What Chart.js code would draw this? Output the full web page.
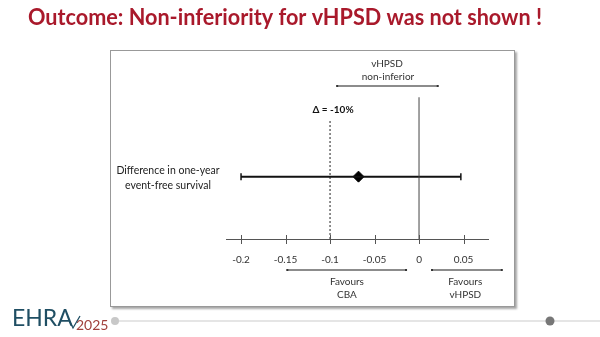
<!DOCTYPE html>
<html>
<head>
<meta charset="utf-8">
<script src="https://cdn.jsdelivr.net/npm/chart.js@4.4.1/dist/chart.umd.min.js"></script>
<style>
  html, body { margin: 0; padding: 0; background: #fff; }
  #wrap { position: relative; width: 600px; height: 337px; overflow: hidden; }
  #box { position: absolute; left: 110px; top: 50px; width: 403px; height: 255px;
         border: 1px solid #999; box-shadow: 2px 2px 2px rgba(0,0,0,0.35); background: #fff; }
  #c { position: absolute; left: 0; top: 0; }
</style>
</head>
<body>
<div id="wrap">
  <div id="box"></div>
  <canvas id="c" width="600" height="337"></canvas>
</div>
<script>
// data
const tickValues = [-0.2, -0.15, -0.1, -0.05, 0, 0.05]
const tickLabels = ['-0.2', '-0.15', '-0.1', '-0.05', '0', '0.05']
const estimate = -0.068
const ciLow = -0.2
const ciHigh = 0.047
const margin = -0.1
const rowLabel = ['Difference in one-year', 'event-free survival']

// vertical positions in y units (0 = axis, 1 = top of plot)
const rowY = 0.33
const marginTop = 0.63
const zeroTop = 0.75

const xMin = -0.2169
const xMax = 0.0775

const font = 'Lato, "Liberation Sans", sans-serif'

const ctx = document.getElementById('c')

const extras = {
    id: 'extras',
    afterDraw(chart) {
        const g = chart.ctx
        const x = chart.scales.x
        const px = v => x.getPixelForValue(v)
        g.save()

        // title
        g.fillStyle = '#a9192b'
        g.font = 'bold 22px ' + font
        g.textAlign = 'left'
        g.textBaseline = 'middle'
        g.fillText('Outcome: Non-inferiority for vHPSD was not shown !', 28, 18, 514)

        // tick marks crossing the axis
        g.strokeStyle = '#555'
        g.lineWidth = 1
        tickValues.forEach(v => {
            const p = Math.round(px(v)) + 0.5
            g.beginPath()
            g.moveTo(p, chart.chartArea.bottom - 4)
            g.lineTo(p, chart.chartArea.bottom + 5)
            g.stroke()
        })

        // helper lines with tiny end dots
        const arrow = (a, b, y) => {
            g.strokeStyle = '#666'
            g.lineWidth = 1.3
            g.beginPath()
            g.moveTo(px(a), y)
            g.lineTo(px(b), y)
            g.stroke()
            g.fillStyle = '#333'
            g.fillRect(px(a) - 1, y - 1, 2, 2)
            g.fillRect(px(b) - 1, y - 1, 2, 2)
        }
        arrow(-0.092, 0.021, 86)
        arrow(-0.148, -0.0146, 270)
        arrow(0.0146, 0.093, 270)

        g.fillStyle = '#333'
        g.font = '10px ' + font
        g.textAlign = 'center'
        g.fillText('vHPSD', 387, 64)
        g.fillText('non-inferior', 388, 77)
        g.fillText('Favours', px(-0.081), 282)
        g.fillText('CBA', px(-0.081), 295)
        g.fillText('Favours', px(0.052), 282)
        g.fillText('vHPSD', px(0.052), 295)

        g.font = 'bold 10px ' + font
        g.fillStyle = '#111'
        g.fillText('\u0394 = -10%', px(margin) + 3, 110)

        g.font = '10.5px ' + font
        g.fillStyle = '#222'
        g.fillText(rowLabel[0], 168, 171)
        g.fillText(rowLabel[1], 168, 186)

        // footer
        g.strokeStyle = '#ddd'
        g.lineWidth = 1.5
        g.beginPath()
        g.moveTo(118, 321)
        g.lineTo(600, 321)
        g.stroke()
        g.fillStyle = '#c8c8c8'
        g.beginPath(); g.arc(115, 321, 4, 0, Math.PI * 2); g.fill()
        g.fillStyle = '#777'
        g.beginPath(); g.arc(550, 321, 4.5, 0, Math.PI * 2); g.fill()

        g.textAlign = 'left'
        g.textBaseline = 'alphabetic'
        g.fillStyle = '#1f4e63'
        g.font = '23px ' + font
        g.fillText('EHRA', 12, 326)
        g.fillStyle = '#a0403c'
        g.font = '14px ' + font
        g.fillText('2025', 76, 330)
        g.strokeStyle = '#1f4e63'
        g.lineWidth = 1.3
        g.beginPath()
        g.moveTo(70, 322)
        g.lineTo(73, 328)
        g.lineTo(80, 316)
        g.stroke()

        g.restore()
    }
}

new Chart(ctx, {
    type: 'scatter',
    data: {
        datasets: [
            {
                // zero line
                type: 'line',
                data: [{ x: 0, y: 0 }, { x: 0, y: zeroTop }],
                borderColor: '#444',
                borderWidth: 1,
                pointRadius: 0
            },
            {
                // non-inferiority margin
                type: 'line',
                data: [{ x: margin, y: 0 }, { x: margin, y: marginTop }],
                borderColor: '#222',
                borderWidth: 1,
                borderDash: [2, 2],
                pointRadius: 0
            },
            {
                // confidence interval
                type: 'line',
                data: [{ x: ciLow, y: rowY }, { x: ciHigh, y: rowY }],
                borderColor: '#111',
                borderWidth: 2,
                pointStyle: 'line',
                rotation: 90,
                pointRadius: 3.5,
                pointBorderWidth: 1.5,
                pointBorderColor: '#111'
            },
            {
                data: [{ x: estimate, y: rowY }],
                pointStyle: 'rectRot',
                pointRadius: 5.5,
                backgroundColor: '#000',
                borderColor: '#000'
            }
        ]
    },
    options: {
        animation: false,
        responsive: false,
        events: [],
        layout: { padding: { left: 226, right: 112, top: 50, bottom: 68 } },
        plugins: { legend: { display: false }, tooltip: { enabled: false } },
        scales: {
            x: {
                type: 'linear',
                min: xMin,
                max: xMax,
                afterBuildTicks: s => { s.ticks = tickValues.map(v => ({ value: v })) },
                afterFit: s => { s.height = 30 },
                grid: { display: false },
                border: { display: true, color: '#555', width: 1 },
                ticks: {
                    padding: 7,
                    color: '#333',
                    font: { family: font, size: 10 },
                    callback: (v, i) => tickLabels[i]
                }
            },
            y: { display: false, min: 0, max: 1 }
        }
    },
    plugins: [extras]
})
</script>
</body>
</html>
